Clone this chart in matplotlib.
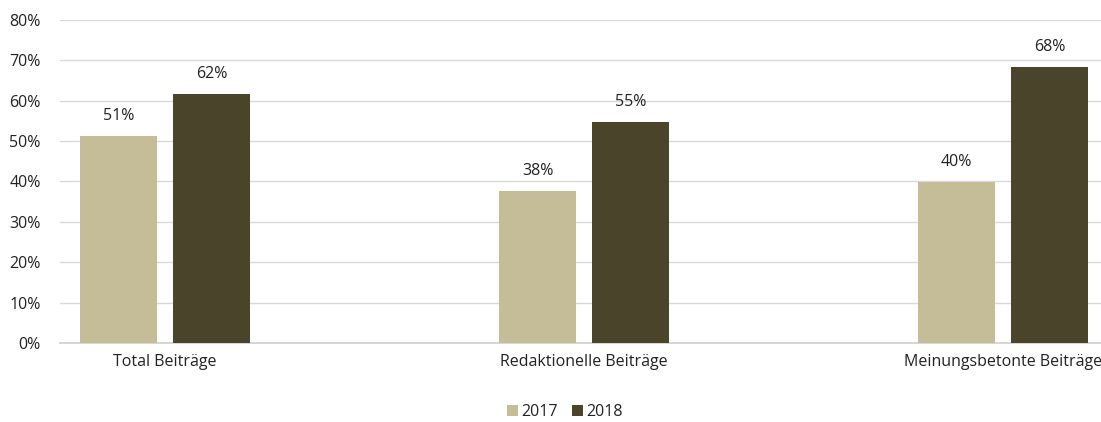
import matplotlib
matplotlib.use("Agg")
import matplotlib.pyplot as plt
import numpy as np

categories = ["Total Beiträge", "Redaktionelle Beiträge", "Meinungsbetonte Beiträge"]
series_names = ["2017", "2018"]
values_2017 = [51.3, 37.7, 39.8]
values_2018 = [61.6, 54.8, 68.3]
yticks = [0, 10, 20, 30, 40, 50, 60, 70, 80]

colors = ["#c4bd97", "#4a442a"]

plt.rcParams['font.family'] = ['Open Sans', 'DejaVu Sans']
FS = 11.5

W, H = 1101, 422
fig = plt.figure(figsize=(W/100, H/100), dpi=100)
ax = fig.add_axes([60/W, (H-343)/H, (1101-60)/W, (343-20)/H])

x = np.arange(len(categories))
bw = 0.184
off = 0.111
b1 = ax.bar(x - off, values_2017, bw, color=colors[0], label=series_names[0], zorder=3)
b2 = ax.bar(x + off, values_2018, bw, color=colors[1], label=series_names[1], zorder=3)

for bars, vals in ((b1, values_2017), (b2, values_2018)):
    for rect, v in zip(bars, vals):
        ax.text(rect.get_x() + rect.get_width()/2, v + 3.0, f"{round(v)}%",
                ha="center", va="bottom", fontsize=FS, color="#222222")

ax.set_xlim(-0.251, 2.234)
ax.set_ylim(0, 80)
ax.set_yticks(yticks)
ax.set_yticklabels([f"{t}%" for t in yticks])
ax.set_xticks(x)
ax.set_xticklabels(categories)
ax.tick_params(axis="both", length=0, labelsize=FS, colors="#222222")
ax.tick_params(axis="x", pad=8)
ax.tick_params(axis="y", pad=14)
ax.yaxis.grid(True, color="#d9d9d9", linewidth=1, zorder=0)
for s in ["top", "right", "left"]:
    ax.spines[s].set_visible(False)
ax.spines["bottom"].set_color("#d0d0d0")
ax.spines["bottom"].set_linewidth(1.2)

leg = fig.legend(handles=[b1, b2], labels=series_names, loc="center",
                 bbox_to_anchor=(565/W, (H-412)/H), ncol=2, frameon=False,
                 fontsize=FS, handlelength=0.7, handleheight=0.7,
                 handletextpad=0.2, columnspacing=0.9)
for t in leg.get_texts():
    t.set_color("#222222")

fig.savefig("out.png", dpi=100)
